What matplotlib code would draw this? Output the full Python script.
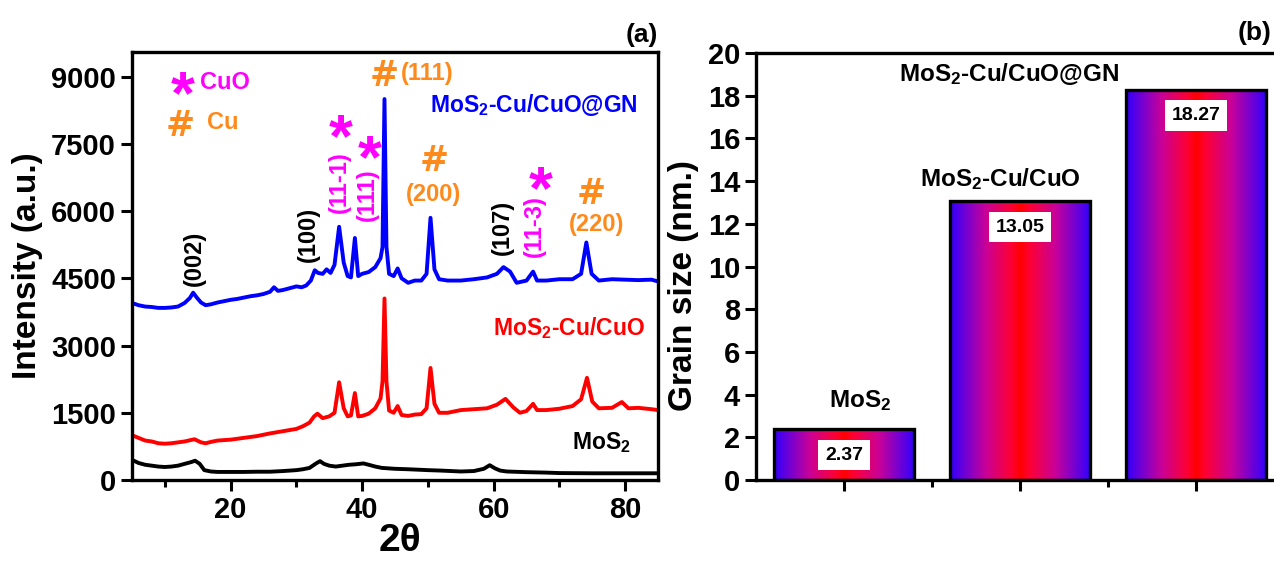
import matplotlib
matplotlib.use("Agg")
import matplotlib.pyplot as plt
import numpy as np
from matplotlib.colors import LinearSegmentedColormap
from matplotlib.ticker import MultipleLocator

plt.rcParams['font.family'] = ['Liberation Sans', 'DejaVu Sans']
plt.rcParams['font.weight'] = 'bold'
plt.rcParams['axes.labelweight'] = 'bold'
plt.rcParams['mathtext.fontset'] = 'custom'
plt.rcParams['mathtext.rm'] = 'Liberation Sans:bold'
plt.rcParams['mathtext.bf'] = 'Liberation Sans:bold'
plt.rcParams['mathtext.it'] = 'Liberation Sans:bold'

# ---- XRD patterns ----
tt_gn = [5, 6, 7, 8, 9, 10, 11, 12, 13, 13.8, 14.3, 14.8, 15.5, 16.2, 17, 18, 19, 20,
         21, 22, 23, 24, 25, 26, 26.6, 27.2, 28, 29, 30, 30.8, 31.5, 32.2, 32.8, 33.3,
         34, 34.6, 35.2, 35.8, 36.5, 37.2, 37.8, 38.3, 38.9, 39.4, 40, 41, 42, 42.8,
         43.1, 43.4, 43.7, 44.1, 44.8, 45.4, 46, 47, 48, 49, 49.8, 50.4, 51, 51.7, 53,
         55, 57, 59, 60.5, 61.5, 62.5, 63.5, 65, 66, 66.6, 68, 70, 72, 73.3, 74.1,
         74.9, 76, 78, 80, 82, 84, 85]
int_gn = [3950, 3900, 3870, 3860, 3840, 3840, 3850, 3870, 3950, 4060, 4180, 4080, 3960,
          3900, 3920, 3960, 3990, 4020, 4040, 4070, 4100, 4120, 4150, 4200, 4300, 4220,
          4240, 4280, 4320, 4300, 4340, 4450, 4680, 4620, 4600, 4700, 4620, 4800, 5650,
          4850, 4550, 4520, 5400, 4550, 4600, 4640, 4750, 4950, 5200, 8500, 5200, 4600,
          4550, 4720, 4500, 4400, 4450, 4450, 4600, 5850, 4700, 4480, 4450, 4450, 4480,
          4520, 4600, 4750, 4650, 4400, 4450, 4650, 4450, 4450, 4480, 4480, 4600, 5300,
          4600, 4450, 4480, 4470, 4460, 4470, 4430]

tt_cu = [5, 6, 7, 8, 9, 10, 11, 12, 13, 14.5, 15.5, 16.2, 17, 18, 19, 20, 22, 24, 26,
         28, 30, 31, 32, 32.7, 33.2, 34, 35, 35.8, 36.5, 37.2, 37.8, 38.3, 38.9, 39.4,
         40, 41, 42, 42.8, 43.1, 43.4, 43.7, 44.1, 44.8, 45.4, 46, 47, 48, 49, 49.8,
         50.4, 51, 51.7, 53, 55, 57, 59, 60.5, 61.8, 63, 64, 65, 66, 66.6, 68, 70, 72,
         73.3, 74.2, 75, 76, 78, 79.5, 80.5, 82, 84, 85]
int_cu = [1000, 940, 880, 860, 820, 810, 820, 840, 860, 910, 840, 820, 850, 880, 890,
          900, 940, 980, 1040, 1090, 1140, 1200, 1280, 1420, 1480, 1380, 1420, 1500,
          2180, 1600, 1420, 1440, 1940, 1420, 1430, 1480, 1600, 1820, 2200, 4050, 2200,
          1550, 1500, 1650, 1450, 1430, 1460, 1470, 1600, 2500, 1700, 1500, 1500, 1560,
          1580, 1600, 1680, 1810, 1620, 1500, 1540, 1700, 1560, 1560, 1590, 1650, 1800,
          2280, 1750, 1600, 1610, 1740, 1600, 1610, 1580, 1560]

tt_mos2 = [5, 6, 7, 8, 9, 10, 11, 12, 13, 14, 14.6, 15.3, 16, 17, 18, 20, 22, 24, 26,
           28, 30, 31, 32, 33, 33.6, 34.2, 35, 36, 37, 38, 39, 40.2, 41, 42, 43, 45, 47,
           50, 52, 55, 57, 58.5, 59.4, 60.2, 61, 62, 65, 68, 70, 75, 80, 85]
int_mos2 = [450, 380, 340, 320, 300, 290, 300, 320, 360, 400, 430, 360, 220, 190, 180,
            180, 180, 185, 185, 200, 220, 240, 270, 370, 420, 360, 320, 300, 320, 340,
            350, 370, 340, 300, 270, 250, 240, 220, 210, 190, 200, 250, 330, 260, 210,
            190, 175, 165, 155, 150, 150, 150]

# ---- grain size ----
samples = ['MoS$_2$', 'MoS$_2$-Cu/CuO', 'MoS$_2$-Cu/CuO@GN']
grain = [2.37, 13.05, 18.27]

magenta = '#ff00ff'
orange = '#ff8a1c'

fig = plt.figure(figsize=(12.74, 5.62), dpi=100)

# ================= (a) =================
ax = fig.add_axes([0.1036, 0.1459, 0.4129, 0.7616])
ax.plot(tt_gn, int_gn, color='#0000ff', lw=2.8)
ax.plot(tt_cu, int_cu, color='#ff0000', lw=2.8)
ax.plot(tt_mos2, int_mos2, color='black', lw=2.8)
ax.set_xlim(5, 85)
ax.set_ylim(0, 9550)
ax.set_yticks([0, 1500, 3000, 4500, 6000, 7500, 9000])
ax.set_xticks([20, 40, 60, 80])
ax.xaxis.set_minor_locator(MultipleLocator(10))
ax.tick_params(axis='both', which='major', direction='out', length=8, width=2.2,
               labelsize=21, top=False, right=False)
ax.tick_params(axis='x', which='minor', direction='out', length=5, width=2.2)
for s in ax.spines.values():
    s.set_linewidth(2.4)
ax.set_ylabel('Intensity (a.u.)', fontsize=24, labelpad=6)
ax.set_xlabel('2θ', fontsize=28)
ax.xaxis.set_label_coords(0.51, -0.1)

ann = dict(ha='center', va='center', rotation=90, fontsize=17)
ax.text(14.5, 4950, '(002)', color='black', **ann)
ax.text(31.8, 5470, '(100)', color='black', **ann)
ax.text(36.5, 6650, '(11-1)', color=magenta, **ann)
ax.text(40.8, 6360, '(111)', color=magenta, **ann)
ax.text(61.4, 5630, '(107)', color='black', **ann)
ax.text(66.2, 5670, '(11-3)', color=magenta, **ann)

# asterisk glyph sits high in its box, so anchor a little lower
star = dict(ha='center', va='center', fontsize=44, color=magenta)
ax.text(36.7, 7560, '*', **star)
ax.text(41.1, 7110, '*', **star)
ax.text(67.1, 6400, '*', **star)
ax.text(12.7, 8520, '*', **star)
ax.text(15.3, 8870, 'CuO', ha='left', va='center', fontsize=17, color=magenta)

hsh = dict(ha='center', va='center', fontsize=25, color=orange,
           family='DejaVu Sans', weight='heavy')
ax.text(43.3, 9010, '#', **hsh)
ax.text(45.9, 9060, '(111)', ha='left', va='center', fontsize=17, color=orange)
ax.text(50.9, 7110, '#', **hsh)
ax.text(50.9, 6360, '(200)', ha='center', va='center', fontsize=17, color=orange)
ax.text(74.8, 6390, '#', **hsh)
ax.text(75.6, 5690, '(220)', ha='center', va='center', fontsize=17, color=orange)
ax.text(12.4, 7890, '#', **hsh)
ax.text(16.4, 7970, 'Cu', ha='left', va='center', fontsize=17, color=orange)

ax.text(66.1, 8370, samples[2], ha='center', va='center', fontsize=16.5, color='#0000ff')
ax.text(71.5, 3390, samples[1], ha='center', va='center', fontsize=16.5, color='#ff0000')
ax.text(76.4, 830, samples[0], ha='center', va='center', fontsize=16.5, color='black')
ax.text(1.0, 1.012, '(a)', transform=ax.transAxes, ha='right', va='bottom', fontsize=19)

# ================= (b) =================
ax2 = fig.add_axes([0.5934, 0.1459, 0.4144, 0.7598])
pos = np.arange(1, len(grain) + 1)
bars = ax2.bar(pos, grain, width=0.8, facecolor='none', edgecolor='black',
               linewidth=2.4, zorder=3)
cmap = LinearSegmentedColormap.from_list(
    'grad', [(0.0, '#ff0000'), (0.12, '#ff0030'), (0.5, '#c8009a'), (1.0, '#3000ff')])
g = np.abs(np.linspace(-1, 1, 256))[None, :]
for r in bars:
    x0, w, h = r.get_x(), r.get_width(), r.get_height()
    im = ax2.imshow(g, cmap=cmap, vmin=0, vmax=1, extent=[x0, x0 + w, 0, h],
                    aspect='auto', interpolation='bilinear', zorder=2)
    im.set_clip_path(r)

for p, v in zip(pos, grain):
    ax2.text(p, v - 1.2, f'{v:.2f}', ha='center', va='center', fontsize=14, zorder=4,
             bbox=dict(boxstyle='square,pad=0.35', facecolor='white', edgecolor='none'))
ax2.text(1.09, 3.7, samples[0], ha='center', va='center', fontsize=17.5)
ax2.text(1.89, 14.1, samples[1], ha='center', va='center', fontsize=17.5)
ax2.text(1.94, 19.0, samples[2], ha='center', va='center', fontsize=17.5)

ax2.set_xlim(0.5, 3.5)
ax2.set_ylim(0, 20)
ax2.set_yticks(np.arange(0, 21, 2))
ax2.set_xticks(pos)
ax2.set_xticklabels([])
ax2.set_xticks([1.5, 2.5], minor=True)
ax2.tick_params(axis='both', which='major', direction='out', length=8, width=2.2,
                labelsize=21, top=False, right=False)
ax2.tick_params(axis='x', which='minor', direction='out', length=5, width=2.2)
for s in ax2.spines.values():
    s.set_linewidth(2.4)
ax2.set_ylabel('Grain size (nm.)', fontsize=24)
ax2.yaxis.set_label_coords(-0.108, 0.455)
fig.text(1255 / 1274, 1 - 33 / 562, '(b)', ha='center', va='center', fontsize=19)

fig.savefig('out.png', dpi=100)
